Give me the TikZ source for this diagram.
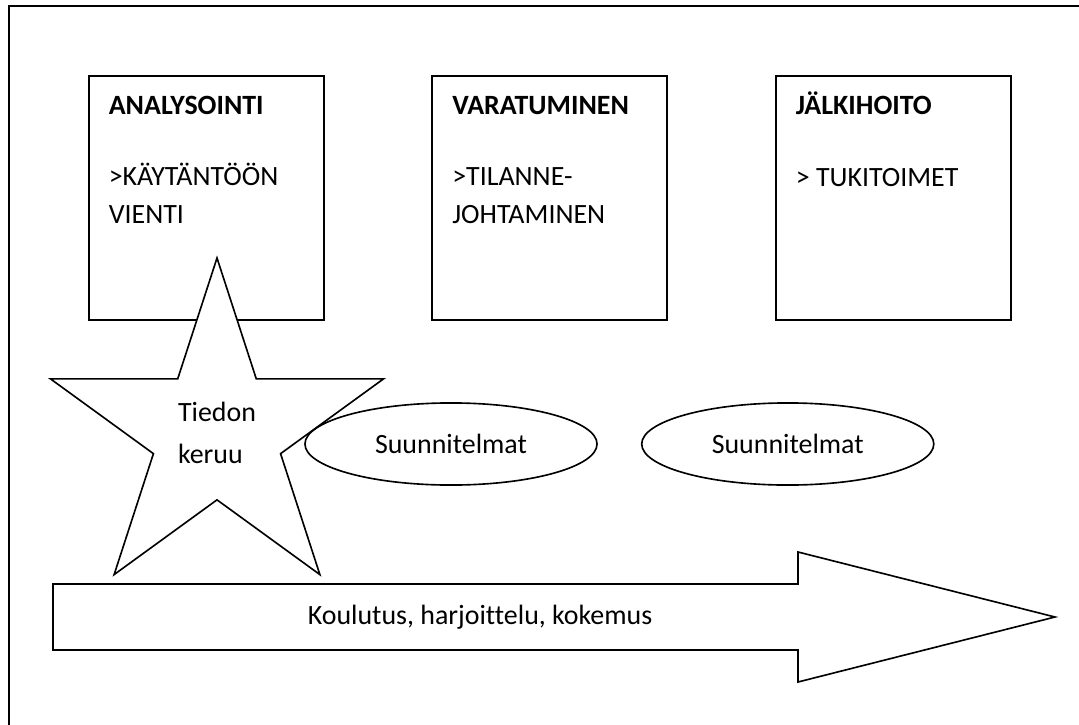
\documentclass[tikz,border=0pt]{standalone}
\usepackage{fontspec}
\setmainfont[Ligatures=CommonOff]{Carlito}
\usetikzlibrary{shapes.geometric, positioning}

\begin{document}
\begin{tikzpicture}[x=0.43pt, y=-0.43pt, line width=0.7pt,
  font=\fontsize{12}{16}\selectfont,
  phasebox/.style={draw, minimum width=101pt, minimum height=105pt, inner sep=0pt},
  phasetext/.style={anchor=base west, align=left, inner sep=0pt},
  plan/.style={draw, ellipse, minimum width=125.6pt, minimum height=35.3pt, inner sep=0pt}]
  \useasboundingbox (0,0) rectangle (1079,725);
  \draw (9,725) -- (9,6) -- (1079,6);

  \node[phasebox, anchor=north west] (analysis) at (88,75) {};
  \node[phasebox, right=46pt of analysis] (readiness) {};
  \node[phasebox, right=46pt of readiness] (aftercare) {};

  \node[phasetext] (analysishead) at ([shift={(20,39)}]analysis.north west) {\textbf{ANALYSOINTI}};
  \node[phasetext] (analysistext) at ([shift={(20,148)}]analysis.north west) {>KÄYTÄNTÖÖN\\VIENTI};
  \node[phasetext] (readinesshead) at ([shift={(20,39)}]readiness.north west) {\textbf{VARATUMINEN}};
  \node[phasetext] (readinesstext) at ([shift={(20,148)}]readiness.north west) {>TILANNE-\\JOHTAMINEN};
  \node[phasetext] (aftercarehead) at ([shift={(20,39)}]aftercare.north west) {\textbf{JÄLKIHOITO}};
  \node[phasetext] (aftercaretext) at ([shift={(20,111)}]aftercare.north west) {> TUKITOIMET};

  \node[draw, fill=white, star, star points=5, star point ratio=2.618,
        minimum size=150.5pt, inner sep=0pt, align=left] (gather) at (217,433)
    {Tiedon\\[2pt]keruu};

  \node[plan] (plan1) at (451,444) {Suunnitelmat};
  \node[plan, right=18.5pt of plan1] (plan2) {Suunnitelmat};

  \draw (53,584) -- (798,584) -- (798,552) -- (1055,617) -- (798,682)
    -- (798,650) -- (53,650) -- cycle;
  \node[anchor=west, inner sep=0pt] (training) at (307,617) {Koulutus, harjoittelu, kokemus};
\end{tikzpicture}
\end{document}
